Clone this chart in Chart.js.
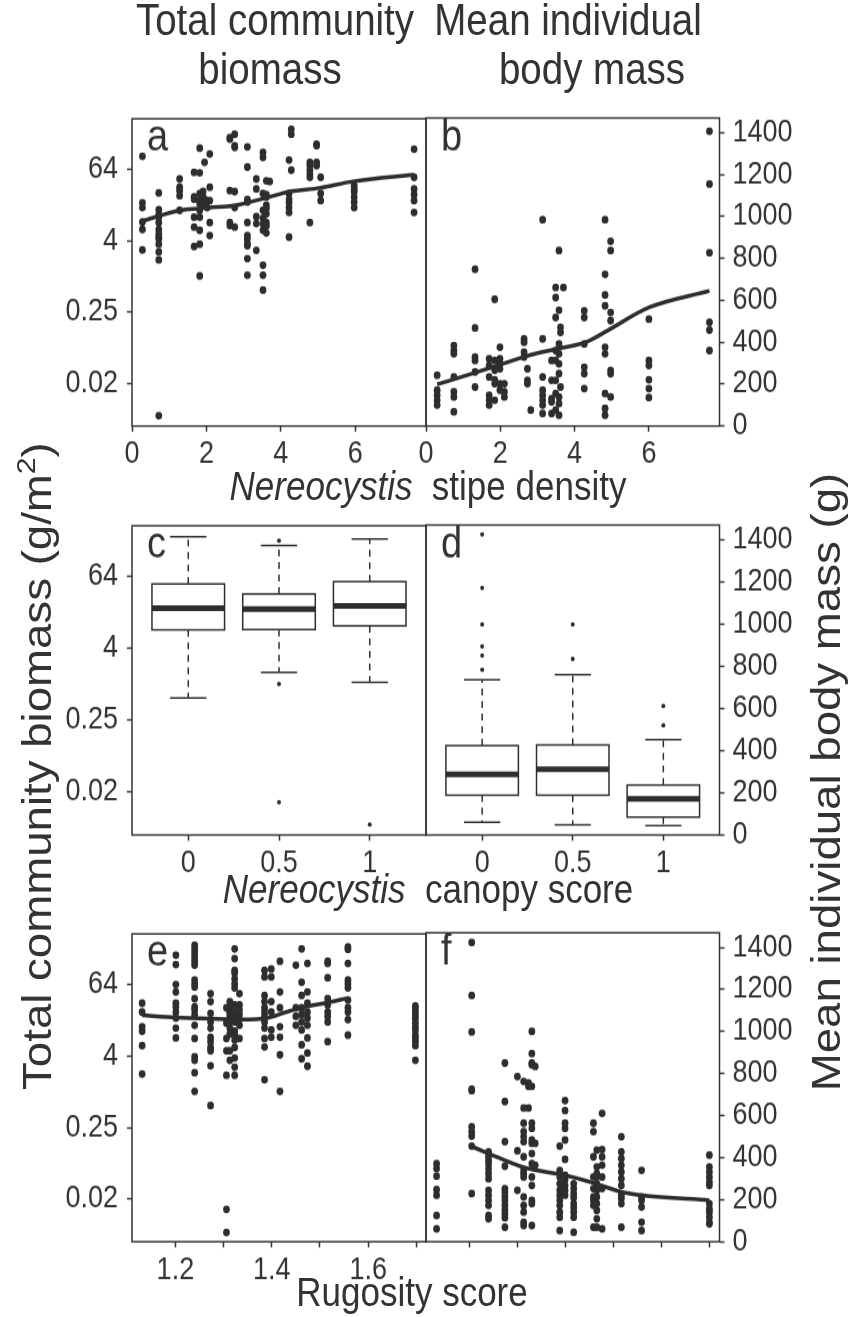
<!DOCTYPE html>
<html>
<head>
<meta charset="utf-8">
<script src="https://cdn.jsdelivr.net/npm/chart.js@4.4.1/dist/chart.umd.min.js"></script>
<style>
  body { margin: 0; background: #fff; }
  #fig { position: absolute; left: 0; top: 0; width: 859px; height: 1156px;
         transform: scaleY(1.14); transform-origin: 0 0;
         font-family: 'Liberation Sans', Arial, sans-serif; color: #333; }
  #fig canvas { position: absolute; }
  .txt { position: absolute; white-space: nowrap; line-height: 1; transform: translateX(-50%); }
  .rot { position: absolute; white-space: nowrap; line-height: 1; transform: translate(-50%, -50%) rotate(-90deg); }
</style>
</head>
<body>
<div id="fig">
  <div class="txt" style="left:275px; top:-1px; font-size:38.5px">Total community</div>
  <div class="txt" style="left:270px; top:42px; font-size:38.5px">biomass</div>
  <div class="txt" style="left:568px; top:-1px; font-size:38.5px">Mean individual</div>
  <div class="txt" style="left:592px; top:42px; font-size:38.5px">body mass</div>

  <div class="txt" style="left:428px; top:409px; font-size:35px"><i>Nereocystis</i>&nbsp; stipe density</div>
  <div class="txt" style="left:428px; top:762px; font-size:35px"><i>Nereocystis</i>&nbsp; canopy score</div>
  <div class="txt" style="left:412px; top:1116px; font-size:35px">Rugosity score</div>

  <div class="rot" style="left:37px; top:672px; font-size:40px">Total community biomass (g/m<sup style="font-size:0.66em; line-height:0; vertical-align:0.62em">2</sup>)</div>
  <div class="rot" style="left:826px; top:686px; font-size:40px">Mean individual body mass (g)</div>
</div>

<script>
// ---- tick positions and labels ----
const biomassTicks = [2 ** -6, 2 ** -2, 2 ** 2, 2 ** 6];
const biomassTickLabels = ['0.02', '0.25', '4', '64'];
const massTicks = [0, 200, 400, 600, 800, 1000, 1200, 1400];
const stipeTicks = [0, 2, 4, 6];
const canopyScores = [0, 0.5, 1];
const canopyLabels = ['0', '0.5', '1'];
const rugosityTicks = [1.2, 1.3, 1.4, 1.5, 1.6, 1.7];
const rugosityLabels = ['1.2', '', '1.4', '', '1.6', ''];

// ---- stipe density vs biomass (g/m2) ----
const stipeBiomass = [
  [0.28,106],[0.28,17.5],[0.28,14.5],[0.28,8.3],[0.28,6.2],[0.28,2.8],
  [0.72,25.6],[0.72,13.3],[0.72,10.9],[0.72,10],[0.72,8.1],[0.72,6.2],[0.72,5.2],[0.72,4.6],[0.72,4.3],[0.72,3.5],[0.72,2.6],[0.72,1.9],[0.72,0.0045],
  [1.28,44],[1.28,32],[1.28,28],[1.28,23],[1.28,13],
  [1.67,57],[1.67,22],[1.67,20],[1.67,10],[1.67,6.8],[1.67,3.2],
  [1.82,146],[1.82,56],[1.82,25],[1.82,19],[1.82,17],[1.82,13],[1.82,10],[1.82,6],[1.82,3.5],[1.82,1.02],
  [1.91,27],[1.91,22],[1.91,18],[1.91,16],[1.95,84],[1.95,20],[2.02,14.5],[2.02,19],
  [2.09,116],[2.09,32],[2.09,19],[2.09,8.1],[2.09,4.9],
  [2.63,220],[2.63,207],[2.63,28],[2.63,8.1],[2.63,7.2],
  [2.76,251],[2.76,160],[2.76,150],[2.76,27],[2.76,14.5],[2.76,6.8],
  [3.10,153],[3.10,70],[3.10,20],[3.10,18],[3.10,8.1],[3.10,4.9],[3.10,4.3],[3.10,3.6],[3.10,3.3],[3.10,2.0],[3.10,1.05],
  [3.34,44],[3.34,30],[3.34,10.2],[3.34,7.8],[3.34,2.75],
  [3.52,123],[3.52,102],[3.52,25],[3.52,13],[3.52,9.6],[3.52,7.7],[3.52,6.0],[3.52,1.55],[3.52,1.05],[3.52,0.59],
  [3.61,41],[3.61,24],[3.61,22],[3.61,16],[3.61,14],[3.61,11.4],[3.61,8.1],[3.61,7.1],[3.61,5.4],[3.70,40],
  [4.22,92],[4.22,25],[4.22,20],[4.22,17.5],[4.22,14.5],[4.22,12],[4.22,4.6],[4.28,304],[4.28,251],[4.28,62],
  [4.78,84],[4.78,74],[4.78,62],[4.78,53],[4.78,47],[4.78,8.1],[4.96,170],[4.96,160],[4.96,84],[4.96,74],
  [5.07,47],[5.07,25],[5.07,19],
  [5.97,34],[5.97,30],[5.97,27],[5.97,22],[5.97,18],[5.97,14.5],
  [7.58,140],[7.58,47],[7.58,30],[7.58,24],[7.58,19],[7.58,12]
];
const stipeBiomassFit = [[0.28,8.6],[1.28,13],[2.09,14.5],[2.76,15.7],[3.7,22],[4.24,27],[5.04,31],[5.94,40],[7.58,52]];

// ---- stipe density vs body mass (g) ----
const stipeMass = [
  [0.30,242],[0.30,171],[0.30,147],[0.30,123],[0.30,100],
  [0.75,384],[0.75,360],[0.75,345],[0.75,234],[0.75,163],[0.75,139],[0.75,68],
  [1.32,748],[1.32,468],[1.32,329],[1.32,313],[1.32,258],[1.32,186],
  [1.70,321],[1.70,289],[1.70,234],[1.70,147],[1.70,123],[1.70,100],
  [1.85,605],[1.85,313],[1.85,266],[1.85,221],[1.85,202],[1.85,123],
  [1.99,376],[1.99,321],[1.99,297],[1.99,273],[1.99,202],[1.99,171],
  [2.11,202],[2.11,163],[2.11,139],
  [2.64,416],[2.64,400],[2.64,352],[2.64,329],[2.73,273],[2.73,218],[2.73,202],[2.82,76],
  [3.14,985],[3.14,416],[3.14,234],[3.14,171],[3.14,147],[3.14,123],[3.14,100],[3.14,60],
  [3.38,313],[3.38,218],[3.38,131],[3.38,115],[3.38,60],
  [3.58,838],[3.49,661],[3.70,661],[3.49,613],[3.58,553],[3.49,518],[3.62,471],[3.62,447],[3.58,392],[3.49,360],
  [3.58,345],[3.49,313],[3.58,297],[3.58,250],[3.49,218],[3.62,186],[3.49,155],[3.58,139],[3.58,107],[3.49,76],[3.58,52],
  [4.26,550],[4.26,518],[4.26,392],[4.26,281],[4.26,250],[4.26,179],
  [4.82,985],[4.97,882],[4.97,838],[4.82,724],[4.82,626],[4.82,574],[4.97,542],[4.97,503],[4.82,376],[4.82,345],
  [4.97,266],[4.97,250],[4.82,155],[4.97,139],[4.82,84],[4.82,52],
  [6.00,510],[6.00,313],[6.00,289],[6.00,221],[6.00,179],[6.00,136],
  [7.63,1407],[7.63,1155],[7.63,827],[7.63,495],[7.63,458],[7.63,360]
];
const stipeMassFit = [[0.3,199],[1.3,253],[2.06,297],[2.82,340],[3.63,372],[4.3,400],[4.88,455],[6.0,566],[7.63,645]];

// ---- canopy score boxes: [low whisker, q1, median, q3, high whisker] ----
const canopyBiomassBox = [[0.59, 8.2, 18.9, 48.3, 300], [1.6, 8.3, 18.4, 32.8, 212], [1.09, 9.6, 20.7, 52.8, 274]];
const canopyBiomassOut = [[0.5,256],[0.5,1.02],[0.5,0.0106],[1,0.0045]];
const canopyMassBox = [[61, 189, 288, 424, 736], [48, 189, 312, 427, 760], [45, 85, 171, 237, 453]];
const canopyMassOut = [[0,1426],[0,1171],[0,998],[0,895],[0,851],[0,784],[0.5,998],[0.5,835],[1,612],[1,520]];

// ---- rugosity vs biomass (g/m2) ----
const rugosityBiomass = [
  [1.131,31],[1.131,22],[1.131,12.5],[1.131,10.5],[1.131,6.0],[1.131,2.0],
  [1.201,200],[1.201,139],[1.201,64],[1.201,48],[1.201,31],[1.201,27],[1.201,22],[1.201,17.5],[1.201,11.8],[1.201,8.1],
  [1.240,292],[1.240,255],[1.240,226],[1.240,200],[1.240,175],[1.240,155],[1.240,136],[1.240,76],[1.240,66],[1.240,58],
  [1.240,37],[1.240,27],[1.240,24],[1.240,20],[1.240,13.2],[1.240,7.9],[1.240,3.9],[1.240,3.4],[1.240,2.1],[1.240,1.02],
  [1.273,45],[1.273,33],[1.273,21],[1.273,15],[1.273,11.8],[1.273,8.3],[1.273,7.0],[1.273,5.6],[1.273,4.9],[1.273,2.75],[1.273,0.59],
  [1.306,26],[1.306,14.3],[1.306,7.9],[1.306,4.9],[1.306,1.9],[1.306,0.0105],[1.306,0.0043],
  [1.313,33],[1.313,27],[1.313,22],[1.313,20],[1.313,17.5],[1.313,15],[1.313,11.8],[1.313,9.4],[1.313,4.9],[1.313,3.4],
  [1.323,255],[1.323,175],[1.323,111],[1.323,100],[1.323,80],[1.323,66],[1.323,56],[1.323,29],[1.323,22],[1.323,18.7],
  [1.323,15],[1.323,10.5],[1.323,9.5],[1.323,7.5],[1.323,5.6],[1.323,3.7],[1.323,2.6],[1.323,1.9],
  [1.333,45],[1.333,29],[1.333,24],[1.333,20],[1.333,16.5],[1.333,13.2],[1.333,7.9],
  [1.385,111],[1.385,86],[1.385,42],[1.385,33],[1.385,26],[1.385,22],[1.385,18.7],[1.385,15],[1.385,11.8],[1.385,7.9],[1.385,5.7],[1.385,1.6],
  [1.399,117],[1.399,86],[1.399,33],[1.399,22],[1.399,11],[1.399,8.3],
  [1.417,158],[1.417,48],[1.417,26],[1.417,12.5],[1.417,8.3],[1.417,4.2],[1.417,1.02],
  [1.450,136],[1.450,26],[1.450,18.7],[1.450,13.2],
  [1.462,255],[1.474,145],[1.462,70],[1.474,48],[1.462,42],[1.474,31],[1.462,26],[1.474,22],[1.462,20],[1.474,17.5],
  [1.462,15],[1.474,13.2],[1.462,11],[1.474,8.1],[1.462,6.2],[1.474,4.5],[1.462,3.6],[1.474,2.7],
  [1.516,158],[1.516,145],[1.516,83],[1.516,37],[1.516,29],[1.516,22],[1.516,18.7],[1.516,15],[1.516,7.0],
  [1.558,275],[1.558,251],[1.558,145],[1.558,76],[1.558,66],[1.558,56],[1.558,35],[1.558,26],[1.558,22],[1.558,16.5],[1.558,9],
  [1.698,28],[1.698,25],[1.698,22],[1.698,19],[1.698,17],[1.698,14.4],[1.698,12.5],[1.698,11],[1.698,9],[1.698,8.1],[1.698,7.0],[1.698,6.0],[1.698,3.4]
];
const rugosityBiomassFit = [[1.131,19.5],[1.2,17.9],[1.273,17],[1.34,16.5],[1.39,17.5],[1.43,22],[1.47,27],[1.51,31],[1.558,38]];

// ---- rugosity vs body mass (g) ----
const rugosityMass = [
  [1.132,372],[1.132,348],[1.132,312],[1.132,248],[1.132,221],[1.132,125],[1.132,61],
  [1.205,1424],[1.205,1172],[1.205,998],[1.205,726],[1.205,719],[1.205,547],[1.205,524],[1.205,503],[1.205,455],[1.205,229],
  [1.240,428],[1.240,407],[1.240,388],[1.240,372],[1.240,348],[1.240,324],[1.240,300],[1.240,245],[1.240,221],[1.240,197],[1.240,173],[1.240,125],[1.240,109],
  [1.274,850],[1.274,667],[1.274,476],[1.274,359],[1.274,253],[1.274,237],[1.274,216],[1.274,197],[1.274,173],[1.274,152],[1.274,133],[1.274,114],[1.274,69],
  [1.300,786],[1.300,433],[1.300,245],
  [1.313,763],[1.313,636],[1.313,564],[1.313,524],[1.313,500],[1.313,476],[1.313,404],[1.313,340],[1.313,324],[1.313,308],[1.313,213],[1.313,173],[1.313,141],[1.313,93],[1.313,77],
  [1.323,755],[1.323,739],[1.323,636],
  [1.330,1001],[1.330,895],[1.330,850],[1.330,842],[1.330,739],[1.330,564],[1.330,540],[1.330,484],[1.330,468],[1.330,420],[1.330,372],[1.330,308],[1.330,268],[1.330,197],[1.330,181],[1.330,77],
  [1.337,834],[1.337,468],[1.337,364],
  [1.388,455],[1.388,340],[1.388,308],[1.388,276],[1.388,245],[1.388,221],[1.388,197],[1.388,173],[1.388,141],[1.388,117],[1.388,53],
  [1.399,672],[1.399,624],[1.399,564],[1.399,540],[1.399,484],[1.399,392],[1.399,316],[1.399,296],[1.399,268],[1.399,245],[1.399,221],
  [1.417,276],[1.417,253],[1.417,229],[1.417,210],[1.417,181],[1.417,162],[1.417,141],[1.417,117],[1.417,45],
  [1.458,564],[1.458,524],[1.458,404],[1.458,308],[1.458,253],[1.458,213],[1.458,197],[1.458,173],[1.458,69],
  [1.465,436],[1.465,356],[1.465,324],[1.465,308],[1.465,276],[1.465,245],[1.465,213],[1.465,181],[1.465,149],[1.465,109],[1.465,69],
  [1.476,611],[1.476,439],[1.476,404],[1.476,364],[1.476,308],[1.476,253],[1.476,61],
  [1.516,500],[1.516,428],[1.516,396],[1.516,364],[1.516,332],[1.516,300],[1.516,268],[1.516,221],[1.516,205],[1.516,181],[1.516,69],
  [1.558,340],[1.558,213],[1.558,197],[1.558,165],[1.558,93],[1.558,53],
  [1.699,412],[1.699,356],[1.699,332],[1.699,308],[1.699,284],[1.699,268],[1.699,181],[1.699,157],[1.699,141],[1.699,117],[1.699,93],[1.699,85]
];
const rugosityMassFit = [[1.203,455],[1.24,420],[1.306,359],[1.333,343],[1.4,316],[1.458,280],[1.516,237],[1.558,221],[1.699,197]];

// ---- layout (final pixel space; the figure div is stretched vertically by S) ----
const S = 1.14;
const ROWS = [[118, 426], [525, 835], [932.7, 1241.7]];
const SPLIT = 426, RIGHT_EDGE = 719.5, LEFT_EDGE = 132;
const INK = '#2e2e2e';
const FONT = "'Liberation Sans', Arial, sans-serif";

const toXY = arr => arr.map(([x, y]) => ({x, y}));

// box around each panel plus the panel letter
const framePlugin = {
  id: 'frame',
  afterDraw(chart, args, o) {
    const {ctx, chartArea: a} = chart;
    ctx.save();
    ctx.strokeStyle = '#333';
    ctx.lineWidth = 1.5;
    ctx.strokeRect(a.left, a.top, a.right - a.left, a.bottom - a.top);
    if (o.tag) {
      ctx.fillStyle = '#333';
      ctx.font = '38px ' + FONT;
      ctx.textBaseline = 'alphabetic';
      ctx.fillText(o.tag, a.left + 15, a.top + 28);
    }
    ctx.restore();
  }
};

// Tukey-style boxes: dashed whiskers, caps, white box, thick median
const boxPlugin = {
  id: 'boxes',
  beforeDatasetsDraw(chart, args, o) {
    if (!o.stats) return;
    const {ctx, scales: {x, y}} = chart;
    ctx.save();
    ctx.strokeStyle = INK;
    o.stats.forEach((s, i) => {
      const [lo, q1, med, q3, hi] = s.map(v => y.getPixelForValue(v));
      const cx = x.getPixelForValue(o.cats[i]);
      const hw = x.getPixelForValue(o.cats[i] + 0.2) - cx;
      ctx.lineWidth = 1.5;
      ctx.setLineDash([6, 5]);
      ctx.beginPath();
      ctx.moveTo(cx, q3); ctx.lineTo(cx, hi);
      ctx.moveTo(cx, q1); ctx.lineTo(cx, lo);
      ctx.stroke();
      ctx.setLineDash([]);
      ctx.beginPath();
      ctx.moveTo(cx - hw / 2, hi); ctx.lineTo(cx + hw / 2, hi);
      ctx.moveTo(cx - hw / 2, lo); ctx.lineTo(cx + hw / 2, lo);
      ctx.stroke();
      ctx.fillStyle = '#fff';
      ctx.fillRect(cx - hw, q3, 2 * hw, q1 - q3);
      ctx.strokeRect(cx - hw, q3, 2 * hw, q1 - q3);
      ctx.lineWidth = 5;
      ctx.beginPath();
      ctx.moveTo(cx - hw, med); ctx.lineTo(cx + hw, med);
      ctx.stroke();
    });
    ctx.restore();
  }
};

const tickFont = {family: FONT, size: 27};
const gridCfg = {drawOnChartArea: false, tickLength: 5, tickColor: '#333', tickWidth: 1.5};

function biomassAxis() {
  return {
    type: 'logarithmic', position: 'left',
    min: 2 ** -8.38, max: 2 ** 8.83,
    afterBuildTicks: s => { s.ticks = biomassTicks.map(v => ({value: v})); },
    afterFit: s => { s.width = LEFT_EDGE; },
    ticks: {callback: (v, i) => biomassTickLabels[i], font: tickFont, color: '#333', padding: 9, autoSkip: false},
    grid: gridCfg, border: {display: false}
  };
}

function massAxis() {
  return {
    type: 'linear', position: 'right', min: 0, max: 1470,
    afterBuildTicks: s => { s.ticks = massTicks.map(v => ({value: v})); },
    afterFit: s => { s.width = 447 - (RIGHT_EDGE - 412); },
    ticks: {callback: v => String(v), font: tickFont, color: '#333', padding: 8, autoSkip: false},
    grid: gridCfg, border: {display: false}
  };
}

function xAxis(min, max, values, labels) {
  return {
    type: 'linear', position: 'bottom', min, max,
    afterBuildTicks: s => { s.ticks = values.map(v => ({value: v})); },
    afterFit: s => { s.height = 50; },
    ticks: {callback: (v, i) => labels[i], font: tickFont, color: '#333', padding: 4, autoSkip: false, maxRotation: 0},
    grid: gridCfg, border: {display: false}
  };
}

const stipeX = () => xAxis(0, 7.9, stipeTicks, stipeTicks.map(String));
const canopyX = () => xAxis(-0.31, 1.31, canopyScores, canopyLabels);
const rugosityX = labels => xAxis(1.11, 1.72, rugosityTicks, labels);

function dots(data, r) {
  return {type: 'scatter', data: toXY(data), pointRadius: r, pointBackgroundColor: INK, pointBorderWidth: 0, showLine: false};
}
function trend(data) {
  return {type: 'line', data: toXY(data), borderColor: INK, borderWidth: 3.5, pointRadius: 0,
          cubicInterpolationMode: 'monotone', fill: false};
}

function addPanel(side, row, datasets, xCfg, yCfg, plugOpts) {
  const fig = document.getElementById('fig');
  const cv = document.createElement('canvas');
  const top = ROWS[row][0] / S, bottom = ROWS[row][1] / S;
  const axisH = 50;
  const cTop = Math.floor(top) - 24;
  const padTop = top - cTop;
  const h = Math.ceil(padTop + (bottom - top) + axisH);
  const padBottom = h - padTop - (bottom - top) - axisH;
  let left, w, pad;
  if (side === 'L') {
    left = 0; w = 440;
    pad = {left: 0, right: w - SPLIT, top: padTop, bottom: padBottom};
  } else {
    left = 412; w = 447;
    pad = {left: SPLIT - left, right: 0, top: padTop, bottom: padBottom};
  }
  cv.width = w; cv.height = h;
  cv.style.left = left + 'px';
  cv.style.top = cTop + 'px';
  fig.appendChild(cv);

  new Chart(cv, {
    type: 'scatter',
    data: {datasets},
    options: {
      responsive: false,
      animation: false,
      events: [],
      layout: {padding: pad},
      scales: {x: xCfg, y: yCfg},
      plugins: {legend: {display: false}, tooltip: {enabled: false}, frame: plugOpts.frame, boxes: plugOpts.boxes || {}}
    },
    plugins: [framePlugin, boxPlugin]
  });
}

addPanel('L', 0, [trend(stipeBiomassFit), dots(stipeBiomass, 3.4)], stipeX(), biomassAxis(), {frame: {tag: 'a'}});
addPanel('R', 0, [trend(stipeMassFit), dots(stipeMass, 3.4)], stipeX(), massAxis(), {frame: {tag: 'b'}});
addPanel('L', 1, [dots(canopyBiomassOut, 2)], canopyX(), biomassAxis(),
  {frame: {tag: 'c'}, boxes: {stats: canopyBiomassBox, cats: canopyScores}});
addPanel('R', 1, [dots(canopyMassOut, 2)], canopyX(), massAxis(),
  {frame: {tag: 'd'}, boxes: {stats: canopyMassBox, cats: canopyScores}});
addPanel('L', 2, [trend(rugosityBiomassFit), dots(rugosityBiomass, 3.4)], rugosityX(rugosityLabels), biomassAxis(), {frame: {tag: 'e'}});
addPanel('R', 2, [trend(rugosityMassFit), dots(rugosityMass, 3.4)], rugosityX(rugosityLabels.map(() => '')), massAxis(), {frame: {tag: 'f'}});
</script>
</body>
</html>
